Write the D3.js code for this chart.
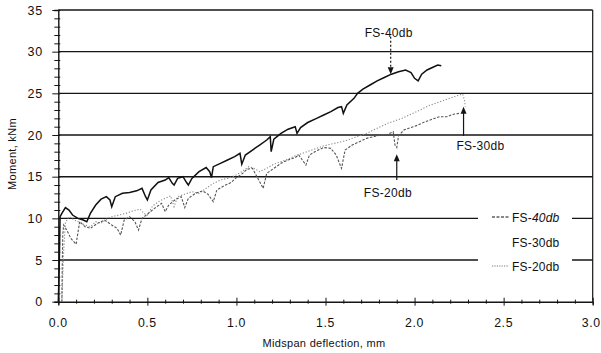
<!DOCTYPE html>
<html><head><meta charset="utf-8">
<script src="https://cdn.jsdelivr.net/npm/d3@7"></script>
<style>
body{margin:0;background:#fff;}
svg text{font-family:"Liberation Sans",Arial,sans-serif;fill:#111;}
</style></head>
<body><svg id="c" width="601" height="353"></svg>
<script>
const yTicks = [0,5,10,15,20,25,30,35];
const xTicks = [0,0.5,1.0,1.5,2.0,2.5,3.0];
const seriesNames = ["FS-40db","FS-30db","FS-20db"];

const fs40 = [[0,0],[0.005,4],[0.01,10.2],[0.02,10.6],[0.04,11.3],[0.06,11.0],[0.08,10.4],[0.11,10.0],[0.14,9.8],[0.16,9.6],[0.18,10.6],[0.21,11.6],[0.24,12.3],[0.27,12.6],[0.29,12.2],[0.30,11.4],[0.32,12.6],[0.36,13.0],[0.40,13.1],[0.44,13.3],[0.47,13.6],[0.49,12.6],[0.50,12.2],[0.52,13.4],[0.56,14.3],[0.60,14.6],[0.62,14.9],[0.64,14.2],[0.65,14.0],[0.67,14.8],[0.70,15.0],[0.72,14.3],[0.73,14.0],[0.75,14.8],[0.79,15.6],[0.83,16.1],[0.85,15.6],[0.86,14.9],[0.87,16.2],[0.91,16.6],[0.95,17.0],[0.99,17.4],[1.02,17.8],[1.03,16.5],[1.05,17.6],[1.09,18.2],[1.13,18.8],[1.17,19.4],[1.19,19.8],[1.195,18.0],[1.21,19.5],[1.25,20.2],[1.29,20.7],[1.33,21.0],[1.34,20.2],[1.36,20.9],[1.40,21.5],[1.45,22.0],[1.49,22.4],[1.53,22.8],[1.57,23.3],[1.59,23.4],[1.60,22.6],[1.62,23.6],[1.66,24.4],[1.68,25.0],[1.71,25.5],[1.75,26.0],[1.79,26.5],[1.83,26.9],[1.87,27.3],[1.91,27.6],[1.95,27.8],[1.98,27.5],[2.00,26.8],[2.02,26.5],[2.04,27.3],[2.07,27.8],[2.10,28.1],[2.13,28.4],[2.15,28.3]];

const fs30 = [[0.02,0],[0.025,3],[0.03,6],[0.04,9.5],[0.06,10.2],[0.09,9.8],[0.12,9.5],[0.15,9.2],[0.18,9.0],[0.21,9.6],[0.24,9.4],[0.27,9.9],[0.30,10.2],[0.34,10.4],[0.38,10.6],[0.42,10.9],[0.46,11.1],[0.48,10.6],[0.50,10.4],[0.53,11.5],[0.57,12.1],[0.61,12.5],[0.63,12.7],[0.65,11.4],[0.67,12.6],[0.71,12.9],[0.75,13.2],[0.79,13.0],[0.83,13.6],[0.87,14.2],[0.91,14.6],[0.95,14.8],[0.99,15.1],[1.03,15.6],[1.07,16.2],[1.10,16.0],[1.13,15.6],[1.17,16.0],[1.21,16.5],[1.25,16.8],[1.29,17.1],[1.33,17.5],[1.37,17.8],[1.41,18.1],[1.45,18.4],[1.49,18.7],[1.53,18.9],[1.57,19.1],[1.61,19.3],[1.65,19.6],[1.69,19.9],[1.73,20.2],[1.77,20.6],[1.81,21.0],[1.85,21.4],[1.89,21.7],[1.93,22.0],[1.97,22.4],[2.01,22.8],[2.05,23.2],[2.09,23.6],[2.13,23.9],[2.17,24.2],[2.21,24.5],[2.25,24.8],[2.27,24.9],[2.28,24.2],[2.285,23.4]];

const fs20 = [[0.02,0],[0.022,4],[0.025,8],[0.03,9.2],[0.05,8.5],[0.07,7.6],[0.10,6.9],[0.12,9.6],[0.15,9.0],[0.18,8.8],[0.22,9.4],[0.26,9.8],[0.30,9.2],[0.33,8.8],[0.35,8.0],[0.37,9.8],[0.40,10.2],[0.43,9.6],[0.45,8.6],[0.47,10.0],[0.50,10.5],[0.54,11.2],[0.58,11.8],[0.60,10.8],[0.62,11.6],[0.66,12.3],[0.69,12.6],[0.71,11.3],[0.73,12.4],[0.77,13.0],[0.81,13.3],[0.84,12.9],[0.87,12.0],[0.89,13.4],[0.93,13.9],[0.97,14.3],[1.00,14.9],[1.03,15.3],[1.06,15.9],[1.09,16.0],[1.12,14.8],[1.15,13.6],[1.17,15.4],[1.21,16.0],[1.25,16.6],[1.29,17.0],[1.33,17.3],[1.35,17.6],[1.37,17.0],[1.39,16.4],[1.41,17.6],[1.45,18.1],[1.49,18.5],[1.53,18.4],[1.56,17.6],[1.59,16.0],[1.61,18.2],[1.65,18.8],[1.69,19.2],[1.73,19.6],[1.77,19.8],[1.81,20.0],[1.85,20.1],[1.88,20.4],[1.89,18.8],[1.90,18.5],[1.91,19.9],[1.94,20.6],[1.98,20.9],[2.02,21.2],[2.06,21.6],[2.10,21.9],[2.14,22.2],[2.18,22.2],[2.22,22.5],[2.25,22.6]];

const annotations = [
  {label:"FS-40db", x:1.866, tip:27.3, tail:31.8, lx:1.855, ly:32.3, dash:"2,2"},
  {label:"FS-30db", x:2.275, tip:23.4, tail:19.9, lx:2.37, ly:18.7, dash:null},
  {label:"FS-20db", x:1.90, tip:17.7, tail:14.6, lx:1.85, ly:13.1, dash:null}
];

const svg = d3.select("#c");
const x = d3.scaleLinear().domain([0,3]).range([58.3,592.7]);
const y = d3.scaleLinear().domain([0,35]).range([301.7,10]);
const ink = "#151515";

svg.append("g").selectAll("line").data(yTicks.filter(d=>d>0)).join("line")
  .attr("x1",x(0)).attr("x2",x(3)).attr("y1",d=>y(d)).attr("y2",d=>y(d))
  .attr("stroke",ink).attr("stroke-width",1.4);
svg.append("line").attr("x1",x(3)).attr("x2",x(3)).attr("y1",y(35)).attr("y2",y(0))
  .attr("stroke",ink).attr("stroke-width",1.2);

svg.append("rect").attr("x",478).attr("y",206).attr("width",94).attr("height",72).attr("fill","#fff");

const yAxis = d3.axisLeft(y).tickValues(d3.range(0,36,1)).tickSize(4).tickFormat("");
const gy = svg.append("g").attr("transform",`translate(${x(0)},0)`).call(yAxis);
gy.select(".domain").attr("stroke",ink).attr("stroke-width",1.4);
gy.selectAll(".tick line").attr("stroke",ink).attr("x2",d=>d%5===0?-6:-4).attr("x1",2);
svg.append("g").selectAll("text").data(yTicks).join("text")
  .attr("x",43).attr("y",d=>y(d)+4.5).attr("text-anchor","end")
  .attr("font-size",12.5).attr("letter-spacing",0.8).text(d=>d);

const xAxis = d3.axisBottom(x).tickValues(d3.range(0,31,1).map(d=>d/10)).tickSize(3).tickFormat("");
const gx = svg.append("g").attr("transform",`translate(0,${y(0)})`).call(xAxis);
gx.select(".domain").attr("stroke",ink).attr("stroke-width",1.4);
gx.selectAll(".tick line").attr("stroke",ink).attr("y1",d=>Math.round(d*10)%5===0?-4:-2).attr("y2",d=>Math.round(d*10)%5===0?4:2);
svg.append("g").selectAll("text").data(xTicks).join("text")
  .attr("x",d=>d===3?x(d)-1.5:x(d)).attr("y",327).attr("text-anchor","middle")
  .attr("font-size",12.3).attr("letter-spacing",0.6).text(d=>d.toFixed(1));

svg.append("text").attr("x",324).attr("y",347).attr("text-anchor","middle")
  .attr("font-size",11).attr("letter-spacing",0.3).text("Midspan deflection, mm");
svg.append("text").attr("transform","translate(16,154) rotate(-90)").attr("text-anchor","middle")
  .attr("font-size",11).attr("letter-spacing",0.3).text("Moment, kNm");

const line = d3.line().x(d=>x(d[0])).y(d=>y(d[1]));
svg.append("path").datum(fs30).attr("d",line).attr("fill","none")
  .attr("stroke","#8a8a8a").attr("stroke-width",1.1).attr("stroke-dasharray","1.2,1.8");
svg.append("path").datum(fs20).attr("d",line).attr("fill","none")
  .attr("stroke","#555").attr("stroke-width",1.1).attr("stroke-dasharray","2.5,1.5");
svg.append("path").datum(fs40).attr("d",line).attr("fill","none")
  .attr("stroke","#111").attr("stroke-width",1.5);

annotations.forEach(a=>{
  const g = svg.append("g");
  const up = a.tip > a.tail;
  g.append("line").attr("x1",x(a.x)).attr("x2",x(a.x)).attr("y1",y(a.tail)).attr("y2",y(a.tip)+(up?5:-5))
    .attr("stroke",ink).attr("stroke-width",1.2).attr("stroke-dasharray",a.dash);
  const tx=x(a.x), ty=y(a.tip), s = up?1:-1;
  g.append("path").attr("d",`M${tx},${ty} L${tx-3},${ty+7*s} L${tx+3},${ty+7*s} Z`).attr("fill",ink);
  g.append("text").attr("x",x(a.lx)).attr("y",y(a.ly)+4.5).attr("text-anchor","middle")
    .attr("font-size",12).attr("letter-spacing",0.3).text(a.label);
});

const leg = svg.append("g");
const legY = [217,242,266];
const legStyles = [{c:"#111",d:"3,1.5"},{c:"none",d:null},{c:"#777",d:"1.2,1.2"}];
seriesNames.forEach((n,i)=>{
  leg.append("line").attr("x1",492).attr("x2",509).attr("y1",legY[i]).attr("y2",legY[i])
    .attr("stroke",legStyles[i].c).attr("stroke-width",1).attr("stroke-dasharray",legStyles[i].d);
  const t = leg.append("text").attr("x",512).attr("y",legY[i]+4.5).attr("font-size",12).attr("letter-spacing",0.2);
  t.append("tspan").text("FS-");
  t.append("tspan").attr("font-style",i===0?"italic":"normal").text(n.slice(3));
});
</script></body></html>
